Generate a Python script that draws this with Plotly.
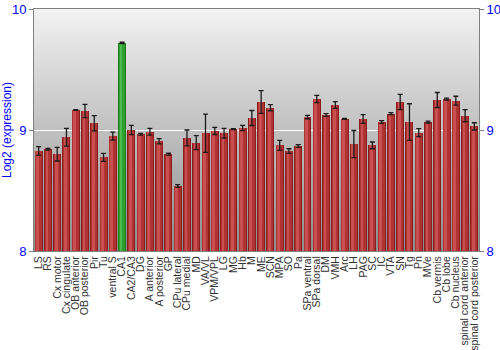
import plotly.graph_objects as go

categories = ["LS", "RS", "Cx motor", "Cx cingulate", "OB anterior", "OB posterior", "Pir", "Tu",
              "ventral S", "CA1", "CA2/CA3", "DG", "A anterior", "A posterior", "GP", "CPu lateral",
              "CPu medial", "MD", "VA/VL", "VPM/VPL", "LG", "MG", "Hb", "M", "ME", "SCN", "MPA",
              "SO", "Pa", "SPa ventral", "SPa dorsal", "DM", "VMH", "Arc", "LH", "PAG", "SC", "IC",
              "VTA", "SN", "Tg", "Pn", "MVe", "Cb vermis", "Cb lobe", "Cb nucleus",
              "spinal cord anterior", "spinal cord posterior"]

values = [8.826, 8.84, 8.80, 8.94, 9.165, 9.157, 9.055, 8.774,
          8.95, 9.72, 9.00, 8.965, 8.986, 8.907, 8.80, 8.537,
          8.934, 8.895, 8.973, 8.992, 8.973, 9.008, 9.017, 9.099, 9.231, 9.184, 8.873,
          8.826, 8.868, 9.107, 9.256, 9.124, 9.207, 9.091, 8.884, 9.091, 8.873, 9.066,
          9.135, 9.231, 9.066, 8.978, 9.066, 9.248, 9.256, 9.242,
          9.118, 9.03]

errors = [0.036, 0.007, 0.056, 0.073, 0.003, 0.055, 0.063, 0.033,
          0.033, 0.005, 0.039, 0.007, 0.028, 0.022, 0.008, 0.012,
          0.066, 0.058, 0.158, 0.029, 0.04, 0.004, 0.022, 0.062, 0.094, 0.025, 0.041,
          0.019, 0.011, 0.014, 0.03, 0.011, 0.028, 0.004, 0.112, 0.036, 0.028, 0.011,
          0.008, 0.063, 0.151, 0.033, 0.008, 0.062, 0.008, 0.037,
          0.05, 0.03]

highlight = ["CA1"]

y_range = [8, 10]
y_ticks = [8, 9, 10]

def colors(normal, special):
    return [special if c in highlight else normal for c in categories]

fig = go.Figure()

# bar body with simulated shading (edge, body, highlight)
fig.add_trace(go.Bar(x=categories, y=values, width=0.86,
                     marker=dict(color=colors("#8a1c1c", "#1a7d1a"), line=dict(width=0)),
                     hoverinfo="skip", showlegend=False))
fig.add_trace(go.Bar(x=categories, y=values, width=0.68, offset=-0.36,
                     marker=dict(color=colors("#b03232", "#2f9f2f"), line=dict(width=0)),
                     hoverinfo="skip", showlegend=False))
fig.add_trace(go.Bar(x=categories, y=values, width=0.3, offset=-0.26,
                     marker=dict(color=colors("#c85050", "#4dbb4d"), line=dict(width=0)),
                     hoverinfo="skip", showlegend=False))

# error bars (also drives the right axis)
fig.add_trace(go.Scatter(x=categories, y=values, mode="markers", yaxis="y2",
                         marker=dict(size=1, opacity=0),
                         error_y=dict(type="data", array=errors, visible=True,
                                      color="#1a1a1a", thickness=1.3, width=2.5),
                         hoverinfo="skip", showlegend=False))

# background gradient bands
n = 121
shapes = []
for i in range(n):
    t = i / (n - 1)
    g = int(round(0xf2 + (0x8e - 0xf2) * t))
    shapes.append(dict(type="rect", xref="paper", yref="paper",
                       x0=0, x1=1, y0=1 - (i + 1) / n, y1=1 - i / n,
                       fillcolor=f"rgb({g},{g},{g})", line=dict(width=0), layer="below"))

axis_font = dict(family="Liberation Sans, Arial, sans-serif", size=13, color="#0000ff")

fig.update_layout(
    width=500, height=350,
    margin=dict(l=34, r=21, t=9, b=99, autoexpand=False),
    paper_bgcolor="white", plot_bgcolor="rgba(0,0,0,0)",
    barmode="overlay", bargap=0,
    shapes=shapes,
    font=dict(family="Liberation Sans, Arial, sans-serif"),
    xaxis=dict(tickangle=-90, tickfont=dict(size=10.5, color="#333333"),
               tickmode="array", tickvals=categories, ticktext=categories,
               automargin=False,
               showline=True, linecolor="#808080", linewidth=1, mirror=True,
               ticks="", showgrid=False, range=[-0.5, len(categories) - 0.5]),
    yaxis=dict(range=y_range, tickvals=y_ticks, tickfont=axis_font, automargin=False,
               showline=True, linecolor="#808080", linewidth=1,
               ticks="outside", ticklen=4, tickcolor="#808080",
               showgrid=True, gridcolor="white", gridwidth=1, zeroline=False,
               title=dict(text="Log2 (expression)", font=dict(size=12, color="#0000ff"), standoff=2)),
    yaxis2=dict(range=y_range, tickvals=y_ticks, tickfont=axis_font, overlaying="y", side="right",
                automargin=False,
                showline=True, linecolor="#808080", linewidth=1,
                ticks="outside", ticklen=4, tickcolor="#808080",
                showgrid=False, zeroline=False),
)

fig.write_html("out.html")
